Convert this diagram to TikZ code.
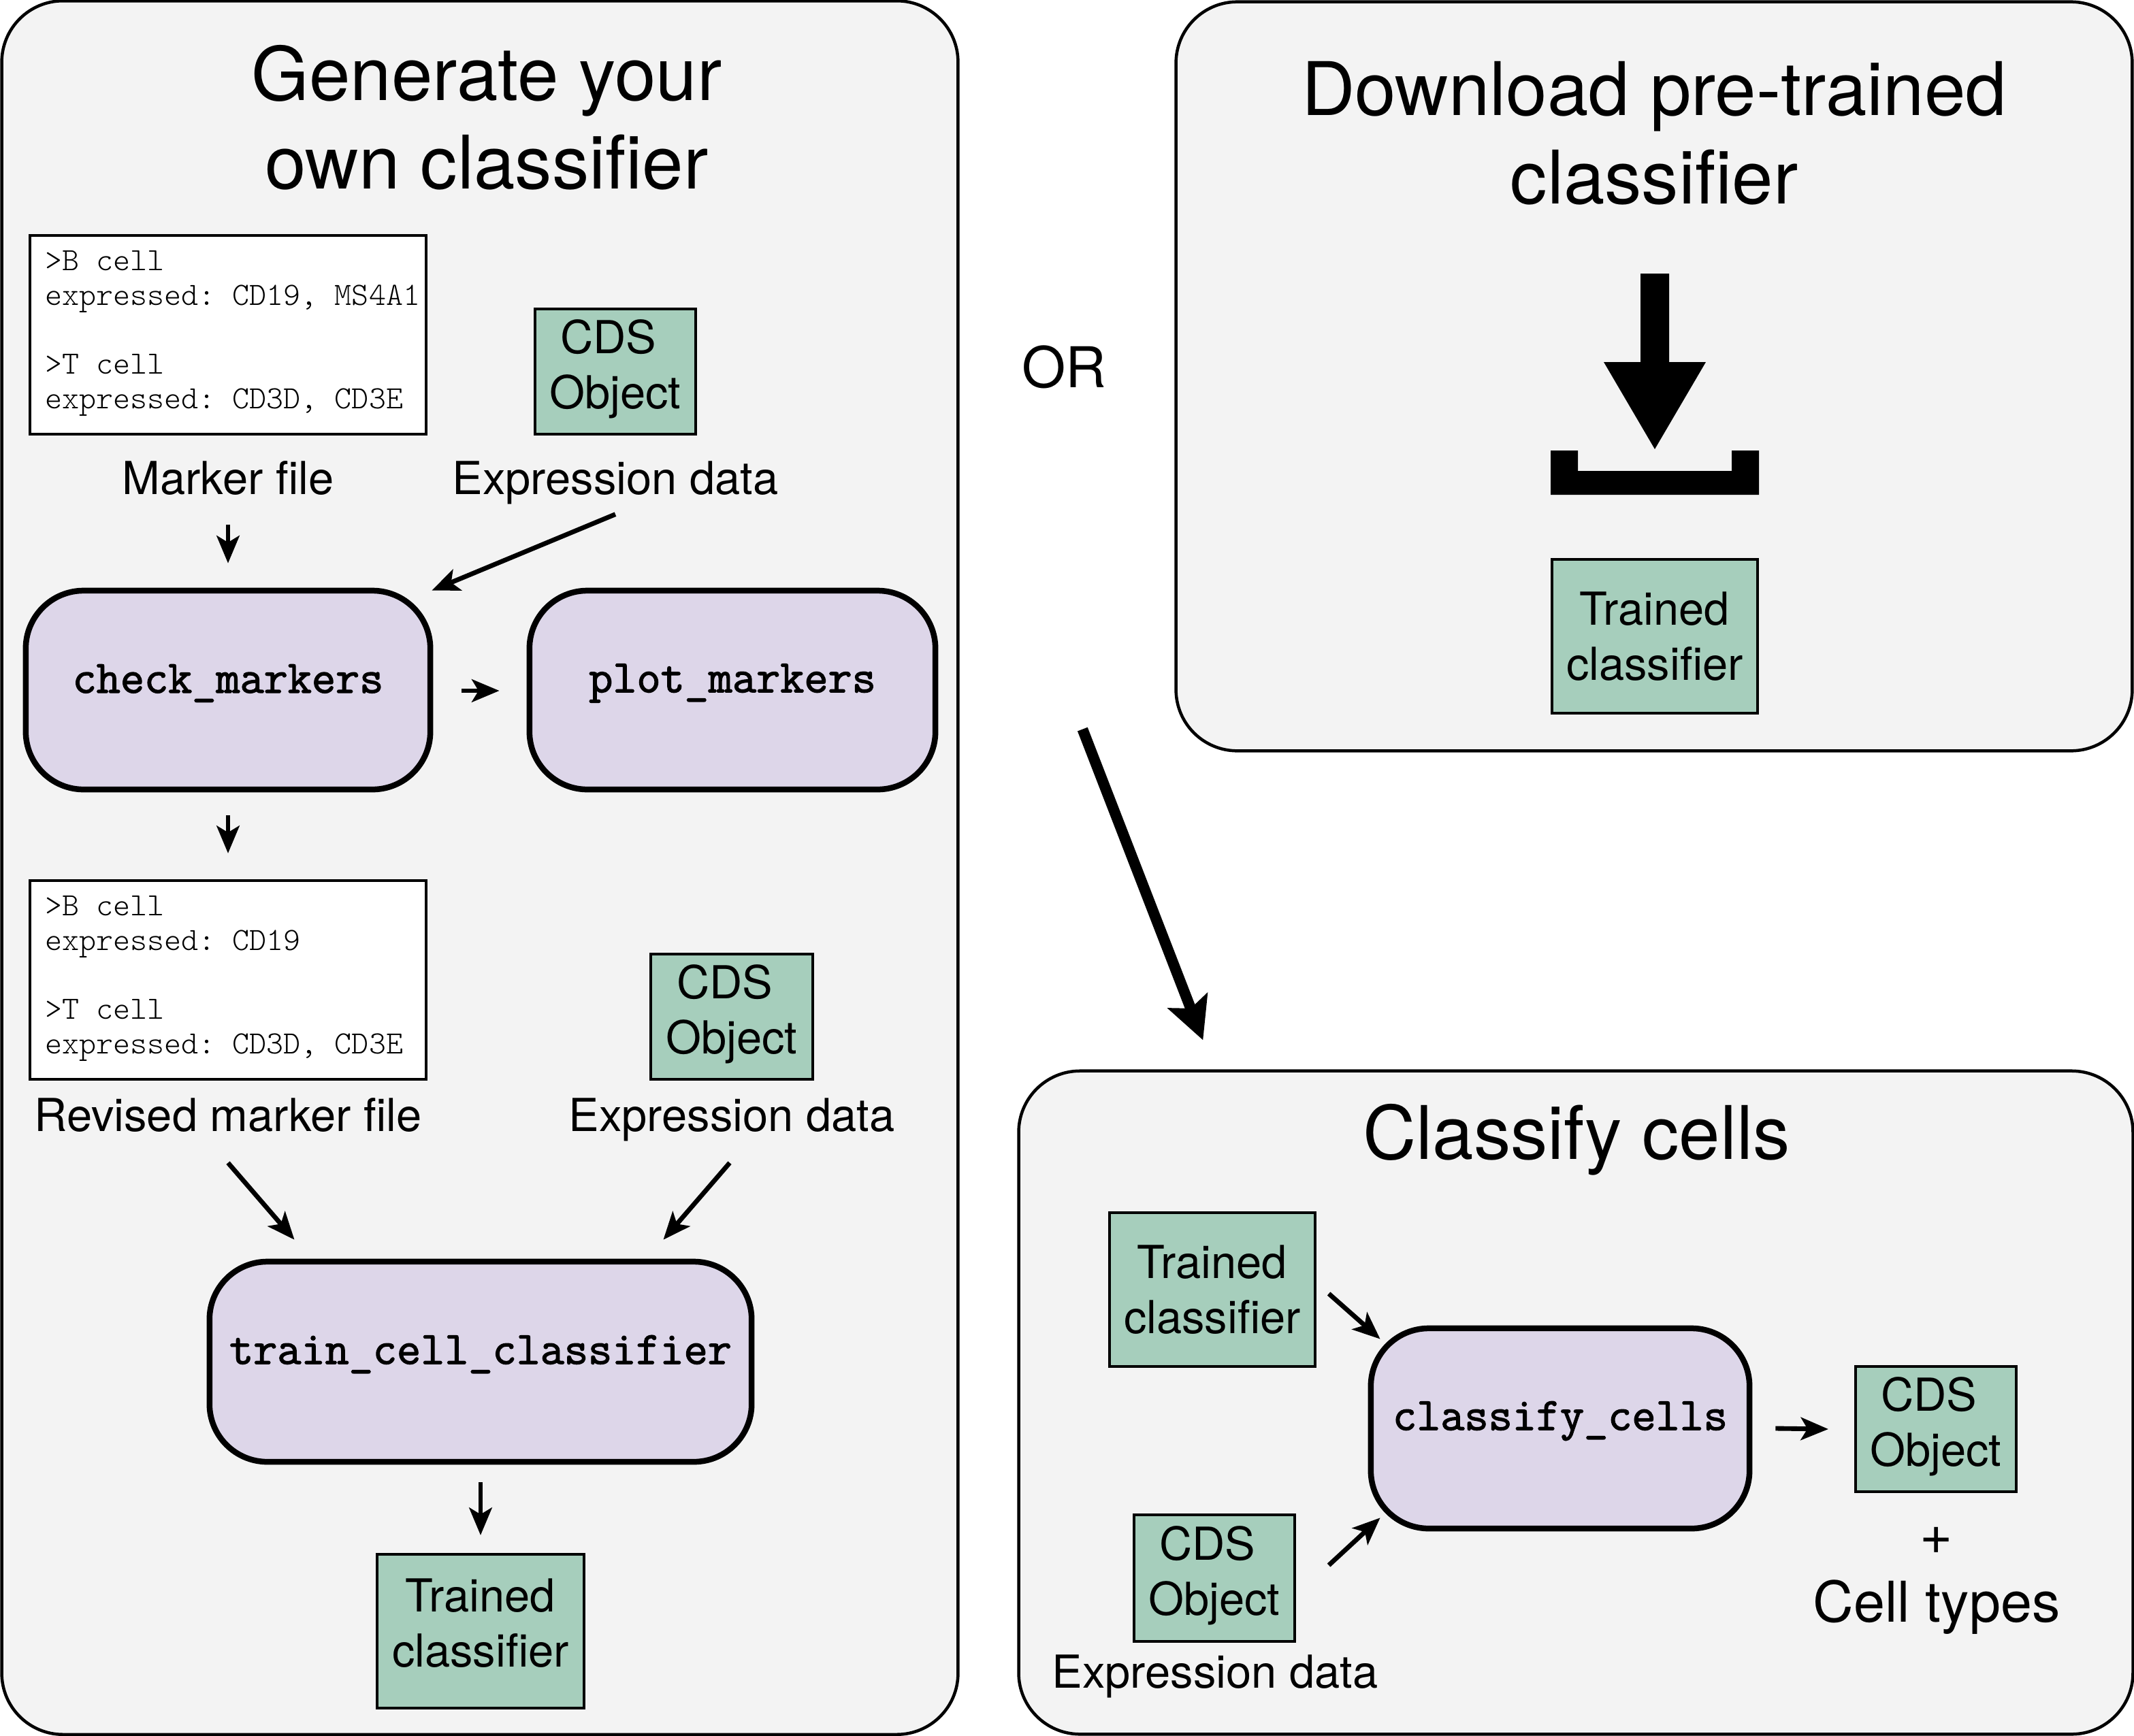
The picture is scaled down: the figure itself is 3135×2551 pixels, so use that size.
\documentclass[tikz,border=0pt]{standalone}
\usepackage{fontspec}
\setmainfont{TeX Gyre Heros}
\newfontfamily\codefont[FakeBold=2]{Latin Modern Mono}
\newfontfamily\filefont{Latin Modern Mono Light}
\usetikzlibrary{arrows.meta}
\newdimen\ux \ux=0.28453pt
\newcommand\upk{\rule[-22\ux]{0pt}{0pt}}
\definecolor{panelgray}{HTML}{F3F3F3}
\definecolor{datagreen}{HTML}{A6CEBC}
\definecolor{funcpurple}{HTML}{DDD6E9}
\tikzset{
  panel/.style={draw=black,line width=4.5\ux,fill=panelgray,rounded corners=90\ux,inner sep=0pt},
  title/.style={font=\fontsize{30.9pt}{37pt}\selectfont,align=center,inner sep=0pt},
  label/.style={font=\fontsize{19pt}{23pt}\selectfont,anchor=base,inner sep=0pt,text height=50\ux,text depth=14\ux},
  databox/.style={draw=black,line width=4\ux,fill=datagreen,inner sep=0pt,align=center,font=\fontsize{19pt}{23pt}\selectfont},
  func/.style={draw=black,line width=8.5\ux,fill=funcpurple,rounded corners=85\ux,inner sep=0pt},
  fname/.style={font=\codefont\fontsize{19.4pt}{23pt}\selectfont,inner sep=0pt},
  filebox/.style={draw=black,line width=4\ux,fill=white,inner sep=0pt,minimum width=582\ux,minimum height=292\ux},
  filetext/.style={font=\filefont\frenchspacing\fontsize{13.55pt}{14.4pt}\selectfont,align=left,anchor=north west,inner sep=0pt},
  arr/.style={line width=1.95pt,-{Stealth[length=11.5pt,width=9.5pt,inset=2.8pt]}},
  bigarr/.style={line width=4.5pt,-{Stealth[length=17.6pt,width=17.5pt,inset=3.4pt]}},
}
\begin{document}
\begin{tikzpicture}[x=0.01cm,y=-0.01cm]
\useasboundingbox (0,0) rectangle (3135,2551);
% panels
\node[panel,minimum width=1404\ux,minimum height=2546\ux] (pa) at (705,1275) {};
\node[panel,minimum width=1404\ux,minimum height=1100\ux] (pb) at (2430,553) {};
\node[panel,minimum width=1636\ux,minimum height=974\ux] (pc) at (2315,2061) {};
% titles
\node[title] (ta) at (715,173) {Generate your\\own classifier};
\node[title] (tb) at (2430,196) {Download pre-trained\\classifier};
\node[title] (tc) at (2316,1675) {Classify cells};
\node[font=\fontsize{23.5pt}{28pt}\selectfont,inner sep=0pt] (or) at (1563,539) {OR};
% left column
\node[filebox] (f1) at (335,492) {};
\node[filetext] (f1t) at (66,368) {>B cell\\expressed: CD19, MS4A1\\\mbox{}\\>T cell\\expressed: CD3D, CD3E};
\node[databox,minimum width=236\ux,minimum height=184\ux] (cds1) at (904,546) {CDS\kern 20\ux\\Object\upk};
\node[label] (lmf) at (335,726) {Marker file};
\node[label] (led1) at (904,726) {Expression data};
\node[func,minimum width=594\ux,minimum height=292\ux] (chk) at (335,1014) {};
\node[fname] at (335,1004) (chkt) {check\_markers};
\node[func,minimum width=596\ux,minimum height=292\ux] (plt) at (1076,1014) {};
\node[fname] at (1076,1004) (pltt) {plot\_markers};
\node[filebox] (f2) at (335,1440) {};
\node[filetext] (f2t) at (66,1316) {>B cell\\expressed: CD19\\\mbox{}\\>T cell\\expressed: CD3D, CD3E};
\node[databox,minimum width=238\ux,minimum height=184\ux] (cds2) at (1075,1494) {CDS\kern 20\ux\\Object\upk};
\node[label] (lrev) at (335,1662) {Revised marker file};
\node[label] (led2) at (1075,1662) {Expression data};
\node[func,minimum width=796\ux,minimum height=294\ux] (trn) at (706,2001) {};
\node[fname] at (706,1990) (trnt) {train\_cell\_classifier};
\node[databox,minimum width=304\ux,minimum height=226\ux] (tc1) at (706,2397) {Trained\\classifier\rule[-24\ux]{0pt}{0pt}};
% download icon
\path[fill=black] (2410,402) -- (2452,402) -- (2452,532) -- (2506,532) -- (2431,660) -- (2356,532) -- (2410,532) -- cycle;
\path[fill=black] (2278,662) -- (2318,662) -- (2318,692) -- (2544,692) -- (2544,662) -- (2584,662) -- (2584,727) -- (2278,727) -- cycle;
\node[databox,minimum width=302\ux,minimum height=226\ux] (tc2) at (2431,935) {Trained\\classifier};
% classify panel
\node[databox,minimum width=302\ux,minimum height=226\ux] (tc3) at (1781,1895) {Trained\\classifier};
\node[databox,minimum width=236\ux,minimum height=186\ux] (cds3) at (1784,2319) {CDS\kern 20\ux\\Object\upk};
\node[label] (led3) at (1785,2480) {Expression data};
\node[func,minimum width=556\ux,minimum height=294\ux] (cls) at (2292,2099) {};
\node[fname] at (2292,2088) (clst) {classify\_cells};
\node[databox,minimum width=236\ux,minimum height=184\ux] (cds4) at (2844,2100) {CDS\kern 20\ux\\Object\upk};
\node[font=\fontsize{23.5pt}{28pt}\selectfont,inner sep=0pt] (plus) at (2845,2264) {+};
\node[font=\fontsize{23.5pt}{28pt}\selectfont,inner sep=0pt] (ctypes) at (2845,2362) {Cell types};
% connectors
\draw[arr] ([shift={(0,30)}]lmf.south) -- ([shift={(0,-36)}]chk.north);
\draw[arr] ([shift={(0,15)}]led1.south) -- ([shift={(-2,4)}]chk.north east);
\draw[arr] ([shift={(42,1)}]chk.east) -- ([shift={(-40,1)}]plt.west);
\draw[arr] ([shift={(0,34)}]chk.south) -- ([shift={(0,-38)}]f2.north);
\draw[arr] ([shift={(0,32)}]lrev.south) -- ([shift={(129,-28)}]trn.north west);
\draw[arr] ([shift={(-3,32)}]led2.south) -- ([shift={(-134,-28)}]trn.north east);
\draw[arr] ([shift={(0,26)}]trn.south) -- ([shift={(0,-26)}]tc1.north);
\draw[bigarr] ([shift={(-135,-34)}]pb.south west) -- ([shift={(273,-43)}]pc.north west);
\draw[arr] ([shift={(18,6)}]tc3.east) -- ([shift={(18,20)}]cls.north west);
\draw[arr] ([shift={(48,-19)}]cds3.east) -- ([shift={(18,-20)}]cls.south west);
\draw[arr] ([shift={(34,0)}]cls.east) -- ([shift={(-38,0)}]cds4.west);
\end{tikzpicture}
\end{document}
